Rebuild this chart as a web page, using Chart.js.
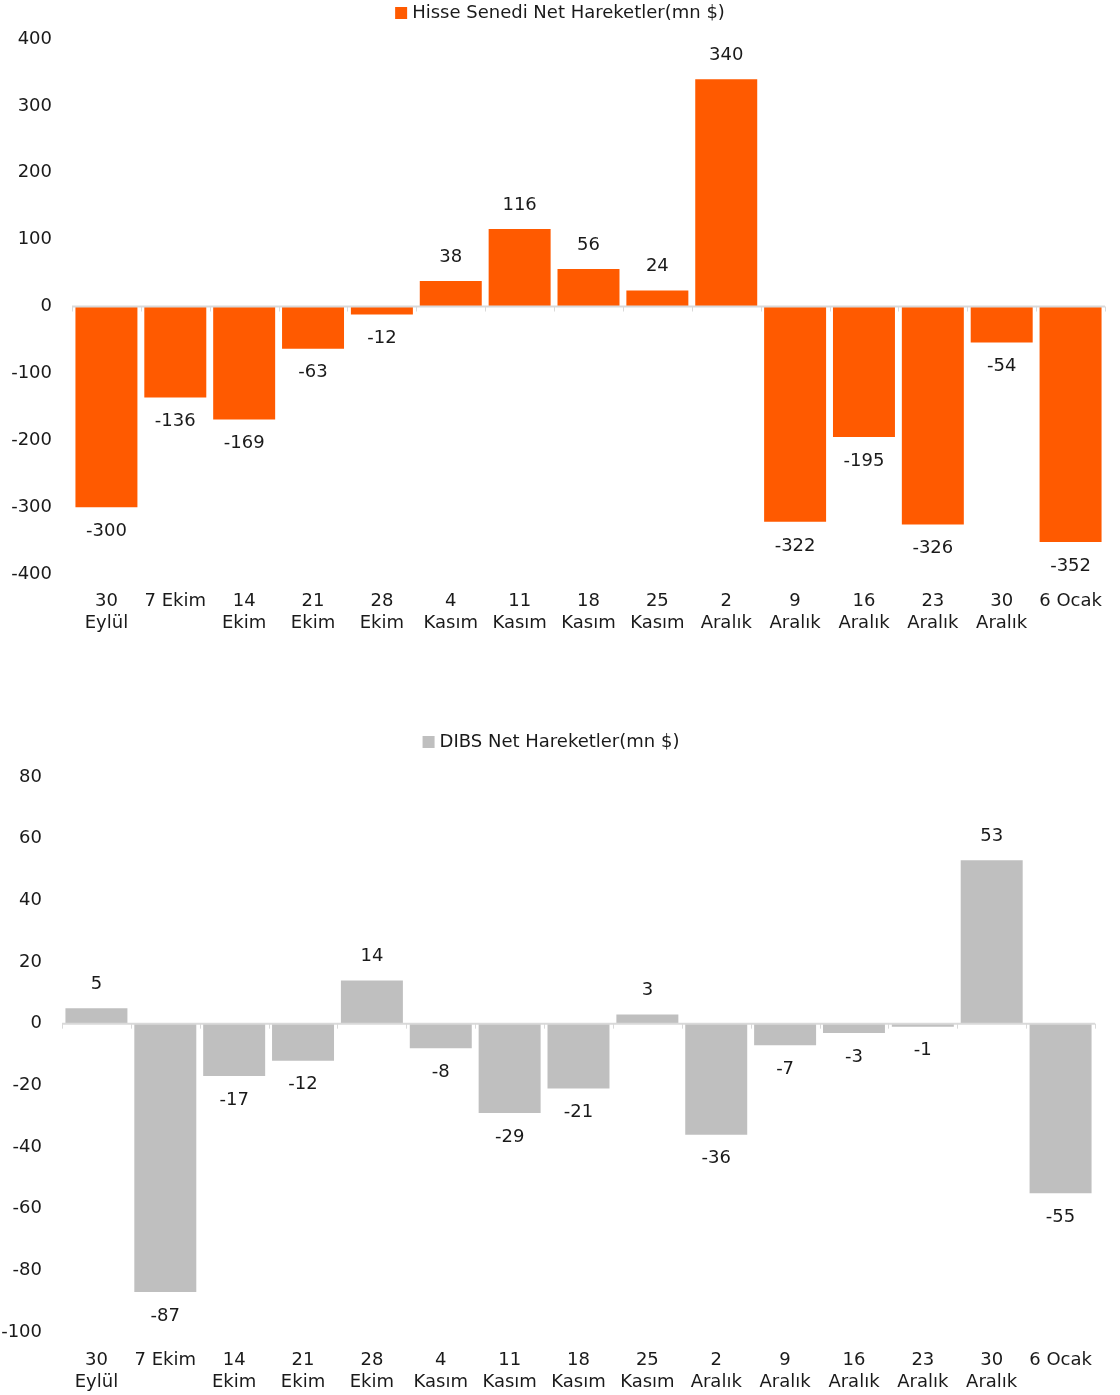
<!DOCTYPE html>
<html><head><meta charset="utf-8">
<script src="https://cdn.jsdelivr.net/npm/chart.js@4"></script>
<style>
html,body{margin:0;padding:0;background:#fff;}
.box{position:absolute;left:0;width:1120px;}
</style></head><body>
<div class="box" style="top:0;height:650px;"><canvas id="c1"></canvas></div>
<div class="box" style="top:720px;height:675px;"><canvas id="c2"></canvas></div>
<script>
const categories = [["30","Eylül"],"7 Ekim",["14","Ekim"],["21","Ekim"],["28","Ekim"],["4","Kasım"],["11","Kasım"],["18","Kasım"],["25","Kasım"],["2","Aralık"],["9","Aralık"],["16","Aralık"],["23","Aralık"],["30","Aralık"],"6 Ocak"];
const hisseValues = [-300,-136,-169,-63,-12,38,116,56,24,340,-322,-195,-326,-54,-352];
const dibsValues = [5,-87,-17,-12,14,-8,-29,-21,3,-36,-7,-3,-1,53,-55];
const hisseLabel = "Hisse Senedi Net Hareketler(mn $)";
const dibsLabel = "DIBS Net Hareketler(mn $)";
const FONT = "'DejaVu Sans', sans-serif";
const TXT = '#1a1a1a';

const decor = {
  id:'decor',
  afterDatasetsDraw(chart, args, o){
    const ctx = chart.ctx, x = chart.scales.x, y = chart.scales.y;
    const y0 = y.getPixelForValue(0);
    ctx.save();
    ctx.strokeStyle = '#d9d9d9'; ctx.lineWidth = 2;
    ctx.beginPath(); ctx.moveTo(chart.chartArea.left, y0); ctx.lineTo(chart.chartArea.right, y0); ctx.stroke();
    ctx.lineWidth = 1;
    const n = chart.data.labels.length;
    for (let i=0;i<=n;i++){
      const px = Math.round(chart.chartArea.left + (chart.chartArea.right-chart.chartArea.left)*i/n)+0.5;
      ctx.beginPath(); ctx.moveTo(px, y0); ctx.lineTo(px, y0+5); ctx.stroke();
    }
    ctx.fillStyle = TXT; ctx.font = '18px ' + FONT; ctx.textAlign='center'; ctx.textBaseline='middle';
    const meta = chart.getDatasetMeta(0);
    chart.data.datasets[0].data.forEach((v,i)=>{
      const el = meta.data[i];
      const yy = v>=0 ? el.y - o.off : el.y + o.off;
      ctx.fillText(String(v), el.x, yy);
    });
    ctx.font = '18px ' + FONT; ctx.textAlign='left';
    const label = chart.data.datasets[0].label;
    const w = ctx.measureText(label).width;
    const total = 12 + 5 + w;
    const lx = o.legendX - total/2;
    ctx.fillStyle = chart.data.datasets[0].backgroundColor;
    ctx.fillRect(lx, o.legendY-6, 12, 12);
    ctx.fillStyle = TXT;
    ctx.fillText(label, lx+17, o.legendY);
    ctx.restore();
  }
};

function make(id, values, label, color, min, max, step, right, top, yw, xh, xpad, legendX, legendY){
  return new Chart(document.getElementById(id), {
    type:'bar',
    data:{labels:categories, datasets:[{label, data:values, backgroundColor:color, barPercentage:0.9, categoryPercentage:1}]},
    options:{
      responsive:true, maintainAspectRatio:false, animation:false,
      layout:{padding:{left:0,right:right,top:top,bottom:0}},
      plugins:{legend:{display:false}, tooltip:{enabled:false}, decor:{off:24, legendX, legendY}},
      scales:{
        x:{grid:{display:false, drawTicks:false}, border:{display:false},
           ticks:{color:TXT, font:{family:FONT,size:18}, padding:xpad, maxRotation:0, autoSkip:false},
           afterFit(s){ s.height = xh; }},
        y:{min, max, ticks:{stepSize:step, color:TXT, font:{family:FONT,size:18}, padding:20},
           grid:{display:false, drawTicks:false}, border:{display:false},
           afterFit(s){ s.width = yw; }}
      }
    },
    plugins:[decor]
  });
}
make('c1', hisseValues, hisseLabel, '#ff5a00', -400, 400, 100, 15, 39, 72, 76, 17, 560, 13);
make('c2', dibsValues, dibsLabel, '#bfbfbf', -100, 80, 20, 25, 57, 62, 63, 18, 551, 22);
</script>
</body></html>
